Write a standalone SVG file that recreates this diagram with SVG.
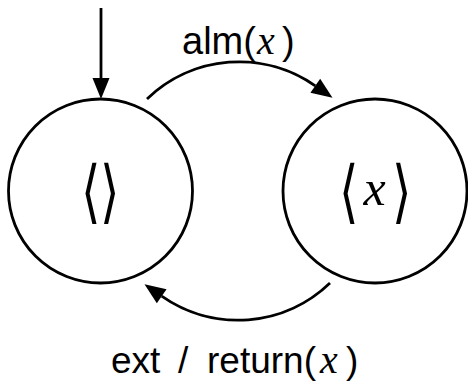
<svg xmlns="http://www.w3.org/2000/svg" width="468" height="385" viewBox="0 0 468 385">
<defs>
<style>
.node{fill:none;stroke:#000;stroke-width:2.8}
.edge{fill:none;stroke:#000;stroke-width:2.8}
.sans{font-family:"Liberation Sans","DejaVu Sans",sans-serif;fill:#000}
.mi{font-family:"Liberation Serif","DejaVu Serif",serif;font-style:italic;fill:#000}
.br{font-family:"DejaVu Sans","Noto Sans",sans-serif;font-weight:200;fill:#000}
</style>
<marker id="ah" markerUnits="userSpaceOnUse" markerWidth="24" markerHeight="20" refX="0" refY="9" orient="auto" viewBox="0 0 24 20" overflow="visible">
<path d="M0,0.5 L21,9 L0,17.5 z" fill="#000"/>
</marker>
</defs>
<rect width="468" height="385" fill="#fff"/>
<g id="edges">
<path id="init" class="edge" d="M101,8 L101,78" marker-end="url(#ah)"/>
<path id="e-alm" class="edge" d="M147,99 A132.8,132.8 0 0,1 315.3,85.8" marker-end="url(#ah)"/>
<path id="e-ext" class="edge" d="M330,283 A132.8,132.8 0 0,1 161.7,296.2" marker-end="url(#ah)"/>
<text class="sans" font-size="38"><tspan x="182" y="54">alm(</tspan><tspan class="mi" x="257" font-size="40">x</tspan><tspan x="282">)</tspan></text>
<text class="sans" font-size="37"><tspan x="111" y="373">ext</tspan><tspan x="178">/</tspan><tspan x="207">return(</tspan><tspan class="mi" x="320" font-size="40">x</tspan><tspan x="346">)</tspan></text>
</g>
<g id="n-empty">
<circle class="node" cx="100.5" cy="191" r="92"/>
<g transform="translate(0,192) scale(1,1.38) translate(0,-192)">
<text class="br" x="91" y="209" font-size="50" text-anchor="middle">⟨</text>
<text class="br" x="110" y="209" font-size="50" text-anchor="middle">⟩</text>
</g>
</g>
<g id="n-x">
<circle class="node" cx="375" cy="191" r="92"/>
<g transform="translate(0,192) scale(1,1.38) translate(0,-192)">
<text class="br" x="349" y="209" font-size="50" text-anchor="middle">⟨</text>
<text class="br" x="402" y="209" font-size="50" text-anchor="middle">⟩</text>
</g>
<text class="mi" x="374.5" y="205" font-size="50" text-anchor="middle">x</text>
</g>
</svg>
